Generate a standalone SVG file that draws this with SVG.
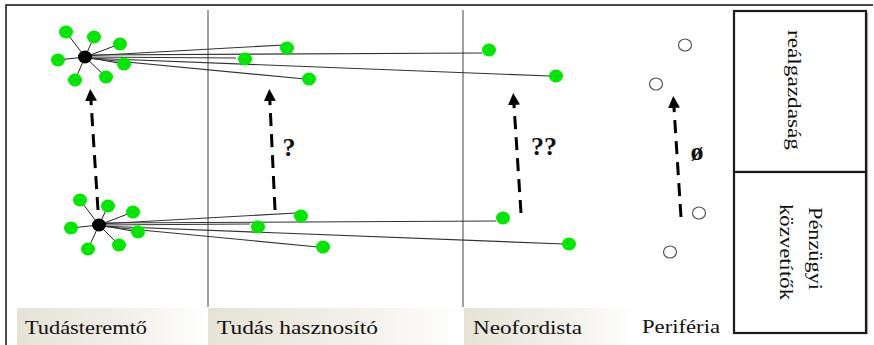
<svg xmlns="http://www.w3.org/2000/svg" width="874" height="345" viewBox="0 0 874 345">
<defs>
<style>
.g{fill:#00E800}
.b{fill:#000}
.w{fill:#fff;stroke:#555;stroke-width:1.2}
.sp{stroke:#222;stroke-width:1}
.ln{stroke:#333;stroke-width:1.1;fill:none}
.dash{stroke:#000;stroke-width:3;stroke-dasharray:13 8;fill:none;marker-end:url(#ah)}
.vl{stroke:#808080;stroke-width:1.5}
.lbl{font-size:19px;fill:#111}
.q{font-size:26px;font-weight:bold;fill:#111}
.box{fill:#fff;stroke:#1a1a1a;stroke-width:2.2}
</style>
<linearGradient id="band" x1="0" y1="0" x2="1" y2="0">
<stop offset="0" stop-color="#E6E3D6"/>
<stop offset="0.55" stop-color="#F1EFE8"/>
<stop offset="1" stop-color="#FFFFFF"/>
</linearGradient>
<marker id="ah" markerWidth="4" markerHeight="4" refX="2" refY="2" orient="auto" markerUnits="strokeWidth" viewBox="0 0 4 4">
<path d="M0,0 L4,2 L0,4 z" fill="#000"/>
</marker>
</defs>
<rect x="0" y="0" width="874" height="345" fill="#fff"/>
<path d="M6,345 V5 H873" fill="none" stroke="#111" stroke-width="1.5"/>
<g id="bands">
<rect x="17" y="308" width="190" height="37" fill="url(#band)"/>
<rect x="208" y="308" width="254" height="37" fill="url(#band)"/>
<rect x="464" y="308" width="170" height="37" fill="url(#band)"/>
</g>
<g id="dividers">
<line class="vl" x1="208" y1="10" x2="208" y2="307"/>
<line class="vl" x1="463" y1="10" x2="463" y2="307"/>
</g>
<g id="connectors">
<line class="sp" x1="85" y1="57" x2="66" y2="32"/>
<line class="sp" x1="85" y1="57" x2="94" y2="37"/>
<line class="sp" x1="85" y1="57" x2="120" y2="44"/>
<line class="sp" x1="85" y1="57" x2="58" y2="60"/>
<line class="sp" x1="85" y1="57" x2="124" y2="64"/>
<line class="sp" x1="85" y1="57" x2="75" y2="80"/>
<line class="sp" x1="85" y1="57" x2="106" y2="77"/>
<line class="ln" x1="85" y1="56" x2="284" y2="45"/>
<line class="ln" x1="85" y1="57" x2="236" y2="58"/>
<line class="ln" x1="85" y1="55" x2="482" y2="53"/>
<line class="ln" x1="85" y1="58" x2="305" y2="79"/>
<line class="ln" x1="85" y1="58" x2="550" y2="76"/>
<line class="sp" x1="99" y1="225" x2="80" y2="200"/>
<line class="sp" x1="99" y1="225" x2="108" y2="206"/>
<line class="sp" x1="99" y1="225" x2="133" y2="212"/>
<line class="sp" x1="99" y1="225" x2="71" y2="228"/>
<line class="sp" x1="99" y1="225" x2="138" y2="232"/>
<line class="sp" x1="99" y1="225" x2="88" y2="249"/>
<line class="sp" x1="99" y1="225" x2="119" y2="245"/>
<line class="ln" x1="99" y1="224" x2="296" y2="213"/>
<line class="ln" x1="99" y1="225" x2="250" y2="224"/>
<line class="ln" x1="99" y1="223" x2="496" y2="221"/>
<line class="ln" x1="99" y1="226" x2="318" y2="247"/>
<line class="ln" x1="99" y1="226" x2="564" y2="244"/>
<line class="dash" x1="98" y1="210" x2="90.6" y2="95"/>
<line class="dash" x1="275" y1="210" x2="269.6" y2="95"/>
<line class="dash" x1="521" y1="213" x2="513.6" y2="99"/>
<line class="dash" x1="681" y1="217" x2="673.6" y2="102"/>
</g>
<g id="top-cluster">
<ellipse class="g" cx="66" cy="32" rx="7" ry="6.5"/>
<ellipse class="g" cx="94" cy="37" rx="7" ry="6.5"/>
<ellipse class="g" cx="120" cy="44" rx="7" ry="6.5"/>
<ellipse class="g" cx="58" cy="60" rx="7" ry="6.5"/>
<ellipse class="g" cx="124" cy="64" rx="7" ry="6.5"/>
<ellipse class="g" cx="75" cy="80" rx="7" ry="6.5"/>
<ellipse class="g" cx="106" cy="77" rx="7" ry="6.5"/>
<ellipse class="b" cx="85" cy="57" rx="7" ry="6.5"/>
</g>
<g id="bottom-cluster">
<ellipse class="g" cx="80" cy="200" rx="7" ry="6.5"/>
<ellipse class="g" cx="108" cy="206" rx="7" ry="6.5"/>
<ellipse class="g" cx="133" cy="212" rx="7" ry="6.5"/>
<ellipse class="g" cx="71" cy="228" rx="7" ry="6.5"/>
<ellipse class="g" cx="138" cy="232" rx="7" ry="6.5"/>
<ellipse class="g" cx="88" cy="249" rx="7" ry="6.5"/>
<ellipse class="g" cx="119" cy="245" rx="7" ry="6.5"/>
<ellipse class="b" cx="99" cy="225" rx="7" ry="6.5"/>
</g>
<g id="hasznosito-nodes">
<ellipse class="g" cx="287" cy="48" rx="7" ry="6.5"/>
<ellipse class="g" cx="245" cy="59" rx="7" ry="6.5"/>
<ellipse class="g" cx="309" cy="79" rx="7" ry="6.5"/>
<ellipse class="g" cx="301" cy="216" rx="7" ry="6.5"/>
<ellipse class="g" cx="258" cy="227" rx="7" ry="6.5"/>
<ellipse class="g" cx="323" cy="247" rx="7" ry="6.5"/>
</g>
<g id="neofordista-nodes">
<ellipse class="g" cx="489" cy="50" rx="7" ry="6.5"/>
<ellipse class="g" cx="556" cy="76" rx="7" ry="6.5"/>
<ellipse class="g" cx="503" cy="218" rx="7" ry="6.5"/>
<ellipse class="g" cx="569" cy="244" rx="7" ry="6.5"/>
</g>
<g id="periferia-nodes">
<ellipse class="w" cx="685" cy="45" rx="6.5" ry="6"/>
<ellipse class="w" cx="656" cy="84" rx="6.5" ry="6"/>
<ellipse class="w" cx="699" cy="213" rx="6.5" ry="6"/>
<ellipse class="w" cx="670" cy="252" rx="6.5" ry="6"/>
</g>
<g id="arrow-labels" font-family="'Liberation Serif', 'DejaVu Serif', serif">
<text class="q" x="289" y="156" text-anchor="middle">?</text>
<text class="q" x="544" y="155" text-anchor="middle">??</text>
<text class="q" x="697" y="160" text-anchor="middle" font-size="28">ø</text>
</g>
<g id="column-labels" font-family="'Liberation Serif', 'DejaVu Serif', serif">
<text class="lbl" x="25" y="334" textLength="122" lengthAdjust="spacingAndGlyphs">Tudásteremtő</text>
<text class="lbl" x="217" y="334" textLength="161" lengthAdjust="spacingAndGlyphs">Tudás hasznosító</text>
<text class="lbl" x="473" y="334" textLength="109" lengthAdjust="spacingAndGlyphs">Neofordista</text>
<text class="lbl" x="642" y="333" textLength="78" lengthAdjust="spacingAndGlyphs">Periféria</text>
</g>
<g id="realgazdasag" font-family="'Liberation Serif', 'DejaVu Serif', serif">
<line x1="867.5" y1="13" x2="867.5" y2="334" stroke="#bbb" stroke-width="1.5"/>
<rect class="box" x="734" y="11" width="132" height="161"/>
<text class="lbl" transform="translate(788,90) rotate(90)" text-anchor="middle" textLength="120" lengthAdjust="spacingAndGlyphs">reálgazdaság</text>
</g>
<g id="penzugyi" font-family="'Liberation Serif', 'DejaVu Serif', serif">
<rect class="box" x="734" y="172" width="132" height="161"/>
<text class="lbl" transform="translate(809,248.5) rotate(90)" text-anchor="middle" textLength="83" lengthAdjust="spacingAndGlyphs">Pénzügyi</text>
<text class="lbl" transform="translate(780,252) rotate(90)" text-anchor="middle" textLength="96" lengthAdjust="spacingAndGlyphs">közvetítők</text>
</g>
</svg>
